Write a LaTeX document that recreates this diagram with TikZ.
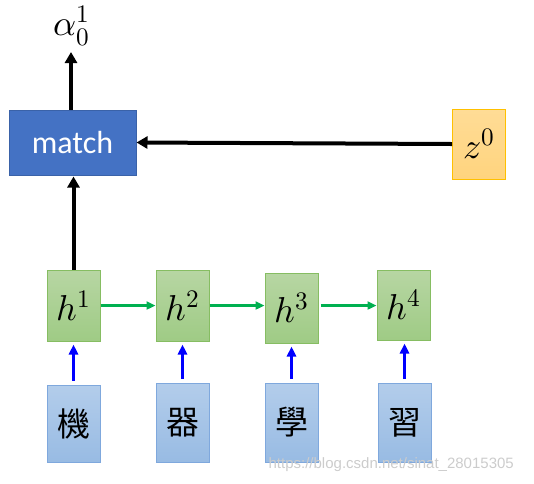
\documentclass[tikz,border=0pt]{standalone}
\usepackage{fontspec}
\usepackage{unicode-math}
\setmathfont{Latin Modern Math}
\newfontfamily\cjk{Noto Sans CJK TC}
\newfontfamily\carlito{Carlito}
\newfontfamily\wmfont{Liberation Sans}
\usetikzlibrary{arrows.meta}
\definecolor{matchfill}{HTML}{4472C4}
\definecolor{matchline}{HTML}{3A62A8}
\definecolor{gtop}{HTML}{B7D6A3}
\definecolor{gbot}{HTML}{9FCB85}
\definecolor{gline}{HTML}{86BD62}
\definecolor{btop}{HTML}{B3CDEB}
\definecolor{bbot}{HTML}{98BBE3}
\definecolor{bline}{HTML}{7FA8DD}
\definecolor{ztop}{HTML}{FFDC96}
\definecolor{zbot}{HTML}{FFD47E}
\definecolor{zline}{HTML}{FFC000}
\definecolor{garrow}{HTML}{00B050}
\definecolor{barrow}{HTML}{0000FF}
\tikzset{
  hbox/.style={draw=gline, line width=1pt, top color=gtop, bottom color=gbot,
    minimum width=53pt, minimum height=71pt, inner sep=0pt,
    font=\fontsize{36}{42}\selectfont},
  cbox/.style={draw=bline, line width=1pt, top color=btop, bottom color=bbot,
    minimum width=53pt, minimum height=79pt, inner sep=0pt,
    font=\cjk\fontsize{33}{40}\selectfont},
  blackarrow/.style={line width=4pt, -{Triangle[width=12pt,length=11pt]}},
  greenarrow/.style={draw=garrow, line width=2.2pt, -{Triangle[width=8pt,length=9pt]}},
  bluearrow/.style={draw=barrow, line width=3pt, -{Triangle[width=9pt,length=10pt]}},
}
\begin{document}
\begin{tikzpicture}[x=1pt,y=-1pt]
\useasboundingbox (0,0) rectangle (534,483);
% match and z0
\node[draw=matchline, line width=1pt, fill=matchfill, minimum width=127pt, minimum height=65pt,
  inner sep=0pt, text=white, font=\carlito\fontsize{32}{38}\selectfont] (match) at (72.5,142.5) {match};
\node[draw=zline, line width=1pt, top color=ztop, bottom color=zbot, minimum width=53pt,
  minimum height=70pt, inner sep=0pt, font=\fontsize{36}{42}\selectfont] (z) at (479,144) {$z^0$};
\node[inner sep=0pt, font=\fontsize{36}{42}\selectfont] (alpha) at (72,26) {$\alpha_0^1$};
\coordinate (atop) at (71,52);
% h boxes
\node[hbox] (h1) at (73.5,305.5) {$h^1$};
\node[hbox] (h2) at (182.5,305.5) {$h^2$};
\node[hbox, minimum height=70pt] (h3) at (291.5,308) {$h^3$};
\node[hbox, minimum height=70pt] (h4) at (403.5,305) {$h^4$};
% character boxes
\node[cbox, minimum height=77pt] (c1) at (73.5,423.5) {機};
\node[cbox] (c2) at (182.5,422.5) {器};
\node[cbox] (c3) at (291.5,422.5) {學};
\node[cbox] (c4) at (404.5,422.5) {習};
% arrows
\draw[blackarrow] (match.north -| atop) -- (atop);
\draw[blackarrow, shorten >=1pt] (h1.north) -- (match.south -| h1.north);
\draw[blackarrow] (z.west) -- (match.east);
\draw[greenarrow] (h1.east) -- (h2.west);
\draw[greenarrow] (h2.east) -- (h3.west |- h2.east);
\draw[greenarrow, shorten <=2pt] (h3.east |- h2.east) -- (h4.west |- h2.east);
\foreach \i in {1,2,3,4}{
  \draw[bluearrow, shorten <=4pt, shorten >=3pt] (c\i.north) -- (h\i.south -| c\i.north);
}
% watermark
\node[text=black!20, font=\wmfont\fontsize{15}{17}\selectfont, anchor=east, inner sep=0pt] (wm) at (514,465) {https://blog.csdn.net/sinat\_28015305};
\end{tikzpicture}
\end{document}
